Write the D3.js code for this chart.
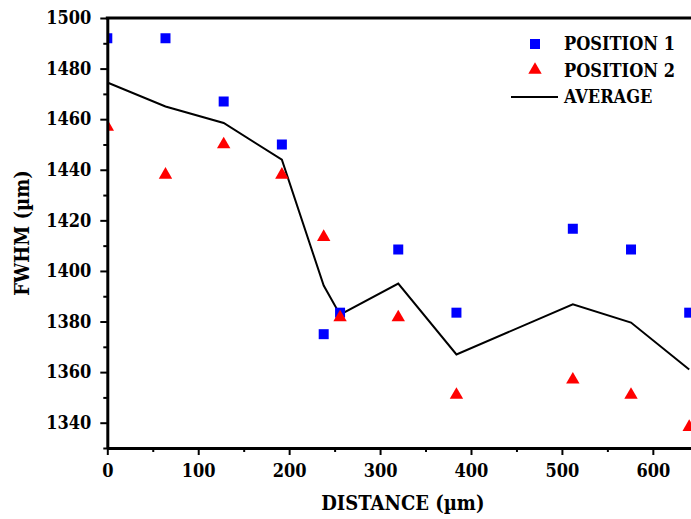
<!DOCTYPE html>
<html>
<head>
<meta charset="utf-8">
<script src="https://cdn.jsdelivr.net/npm/d3@7"></script>
<style>
  body { margin: 0; background: #fff; }
  svg text { font-family: "DejaVu Serif Condensed", "DejaVu Serif", serif; font-stretch: condensed; font-weight: bold; fill: #000; }
</style>
</head>
<body>
<div id="chart"></div>
<script>
// values
const distance = [0, 64, 128, 192, 238, 256, 320, 384, 512, 576, 640];
const position1 = [1492, 1492, 1467, 1450, 1375, 1383.5, 1408.5, 1383.5, 1416.7, 1408.5, 1383.5];
const position2 = [1457, 1438, 1450, 1438, 1413.4, 1381.6, 1381.6, 1351, 1357, 1351, 1338.3];
const average = [1474.5, 1465, 1458.5, 1444, 1394.2, 1382.7, 1395, 1367, 1386.8, 1379.6, 1361];
const xTicks = [0, 100, 200, 300, 400, 500, 600];
const yTicks = [1340, 1360, 1380, 1400, 1420, 1440, 1460, 1480, 1500];
const legendLabels = ["POSITION 1", "POSITION 2", "AVERAGE"];

// set the dimensions and margins of the graph
const margin = {top: 18, right: 0, bottom: 71, left: 107.3},
  width = 591,
  height = 430;

const svg = d3.select("#chart")
  .append("svg")
  .attr("width", 691)
  .attr("height", 519)
  .append("g")
  .attr("transform", `translate(${margin.left},${margin.top})`);

const x = d3.scaleLinear().domain([0, 650]).range([0, width]);
const y = d3.scaleLinear().domain([1330, 1500]).range([height, 0]);

svg.append("defs").append("clipPath").attr("id", "plot")
  .append("rect").attr("width", width).attr("height", height);

const plot = svg.append("g").attr("clip-path", "url(#plot)");

// average line
plot.append("path")
  .datum(distance.map((d, i) => [d, average[i]]))
  .attr("fill", "none")
  .attr("stroke", "#000")
  .attr("stroke-width", 2)
  .attr("stroke-linejoin", "miter")
  .attr("d", d3.line().x(d => x(d[0])).y(d => y(d[1])));

// position 1 squares
plot.selectAll(".p1")
  .data(distance.map((d, i) => [d, position1[i]]))
  .join("path")
  .attr("class", "p1")
  .attr("transform", d => `translate(${x(d[0])},${y(d[1])})`)
  .attr("d", d3.symbol().type(d3.symbolSquare).size(100)())
  .attr("fill", "#0000ff");

// position 2 triangles
plot.selectAll(".p2")
  .data(distance.map((d, i) => [d, position2[i]]))
  .join("path")
  .attr("class", "p2")
  .attr("transform", d => `translate(${x(d[0])},${y(d[1])})`)
  .attr("d", d3.symbol().type(d3.symbolTriangle).size(78)())
  .attr("fill", "#ff0000");

// minor ticks
svg.append("g")
  .attr("transform", `translate(0,${height})`)
  .call(d3.axisBottom(x).tickValues(xTicks.map(t => t + 50)).tickSize(4).tickFormat(""))
  .call(g => g.select(".domain").remove())
  .call(g => g.selectAll("line").attr("stroke-width", 2));
svg.append("g")
  .call(d3.axisLeft(y).tickValues(yTicks.map(t => t - 10)).tickSize(4).tickFormat(""))
  .call(g => g.select(".domain").remove())
  .call(g => g.selectAll("line").attr("stroke-width", 2));

// X axis
svg.append("g")
  .attr("transform", `translate(0,${height})`)
  .call(d3.axisBottom(x).tickValues(xTicks).tickFormat(d3.format("d")).tickSize(7).tickSizeOuter(0).tickPadding(9))
  .call(g => g.select(".domain").attr("stroke-width", 3))
  .call(g => g.selectAll("line").attr("stroke-width", 2))
  .call(g => g.selectAll("text").attr("font-size", "18px").attr("font-family", null));

// Y axis
svg.append("g")
  .call(d3.axisLeft(y).tickValues(yTicks).tickFormat(d3.format("d")).tickSize(7).tickSizeOuter(0).tickPadding(9))
  .call(g => g.select(".domain").attr("stroke-width", 3))
  .call(g => g.selectAll("line").attr("stroke-width", 2))
  .call(g => g.selectAll("text").attr("font-size", "18px").attr("font-family", null));

// top border
svg.append("line")
  .attr("x1", -1.5).attr("x2", width)
  .attr("y1", 0).attr("y2", 0)
  .attr("stroke", "#000").attr("stroke-width", 3);

// axis titles
svg.append("text")
  .attr("x", width / 2)
  .attr("y", height + 62)
  .attr("text-anchor", "middle")
  .attr("font-size", "20px")
  .text("DISTANCE (µm)");

svg.append("text")
  .attr("transform", "rotate(-90)")
  .attr("x", -height / 2)
  .attr("y", -78)
  .attr("text-anchor", "middle")
  .attr("font-size", "20px")
  .text("FWHM (µm)");

// Legend
const legend = svg.append("g").attr("transform", `translate(${535 - margin.left},${44 - margin.top})`);
legend.append("path")
  .attr("d", d3.symbol().type(d3.symbolSquare).size(100)())
  .attr("fill", "#0000ff");
legend.append("path")
  .attr("transform", "translate(0,26)")
  .attr("d", d3.symbol().type(d3.symbolTriangle).size(78)())
  .attr("fill", "#ff0000");
legend.append("line")
  .attr("x1", -24).attr("x2", 23)
  .attr("y1", 53).attr("y2", 53)
  .attr("stroke", "#000").attr("stroke-width", 2);
legend.selectAll(".lbl")
  .data(legendLabels)
  .join("text")
  .attr("class", "lbl")
  .attr("x", 29)
  .attr("y", (d, i) => 6 + i * 26.5)
  .attr("font-size", "18px")
  .text(d => d);
</script>
</body>
</html>
